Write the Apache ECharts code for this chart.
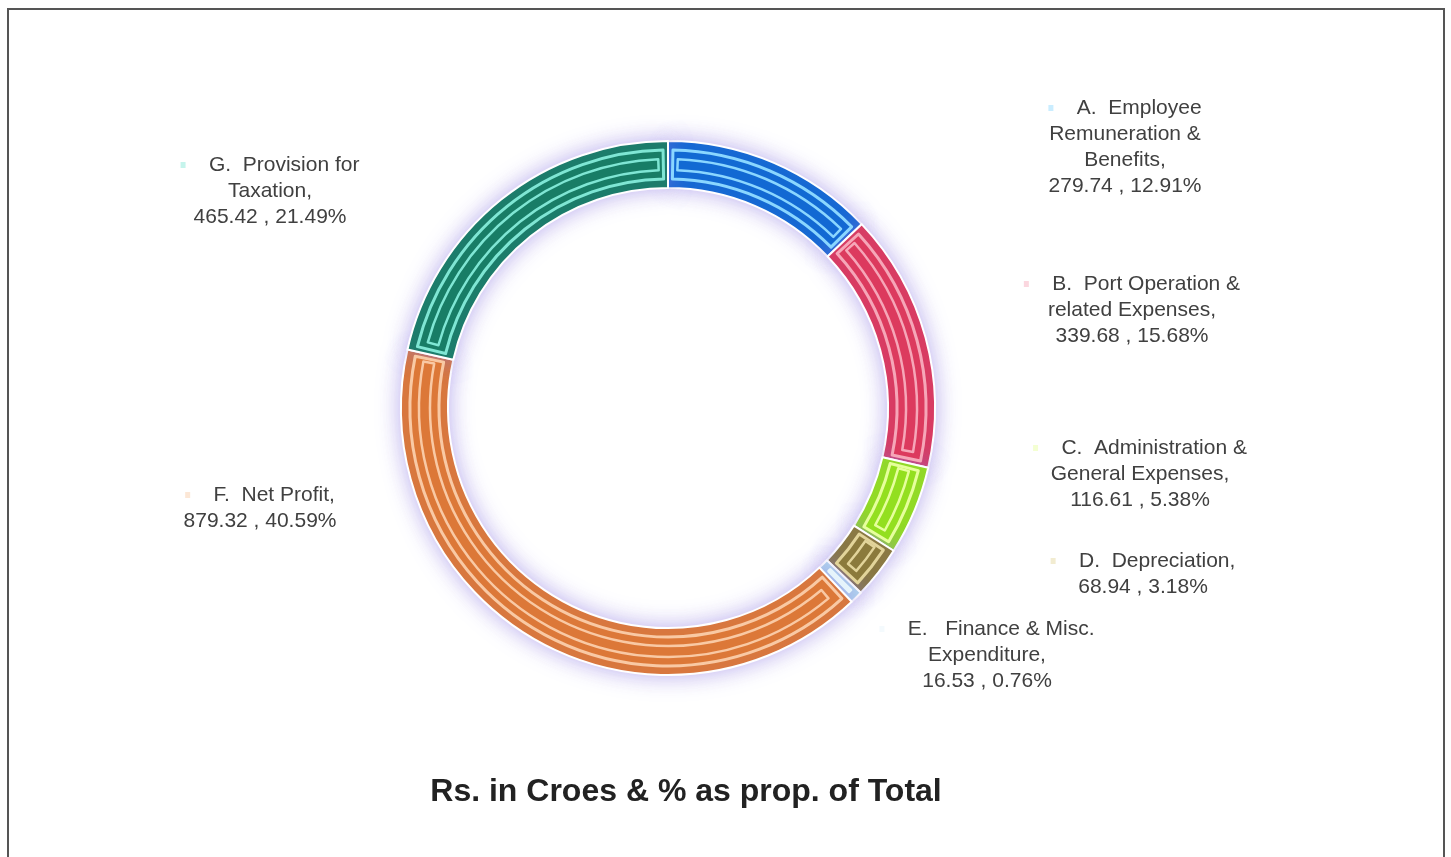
<!DOCTYPE html>
<html lang="en">
<head>
    <meta charset="UTF-8">
    <title>Expenditure pie</title>
    <script src="https://cdn.jsdelivr.net/npm/echarts@6/dist/echarts.min.js"></script>
    <style>
        html, body { margin: 0; padding: 0; background: #fff; }
        #frame {
            position: absolute; left: 7px; top: 8px; width: 1438px; height: 860px;
            border: 2px solid #555; border-bottom: none; box-sizing: border-box;
        }
        #main { position: absolute; left: 0; top: 0; width: 1451px; height: 857px; }
    </style>
</head>
<body>
    <div id="frame"></div>
    <div id="main"></div>
    <script>
        // data
        var names = [
            'A.  Employee\nRemuneration &\nBenefits,',
            'B.  Port Operation &\nrelated Expenses,',
            'C.  Administration &\nGeneral Expenses,',
            'D.  Depreciation,',
            'E.   Finance & Misc.\nExpenditure,',
            'F.  Net Profit,',
            'G.  Provision for\nTaxation,'
        ];
        var values = [279.74, 339.68, 116.61, 68.94, 16.53, 879.32, 465.42];
        var percents = ['12.91%', '15.68%', '5.38%', '3.18%', '0.76%', '40.59%', '21.49%'];

        var colors = ['#1269d3', '#dc3a5e', '#93df1f', '#8b7a3c', '#b5dcf0', '#dc7838', '#187d66'];
        var lights = ['#8ad6ff', '#f6a6b8', '#e6ff9c', '#e2d49a', '#e6f4fb', '#f9c9a4', '#7fe6d4'];

        // label centres
        var labelPos = [[1125, 147], [1132, 310], [1140, 474], [1143, 574], [987, 655], [260, 508], [270, 191]];

        var chart = echarts.init(document.getElementById('main'));
        var center = [668, 408];

        var outerData = [], midData = [], innerData = [];
        for (var i = 0; i < values.length; i++) {
            outerData.push({
                name: names[i], value: values[i],
                itemStyle: { color: colors[i] },
                label: { rich: { m: { width: 5, height: 6, backgroundColor: lights[i], opacity: 0.45 } } }
            });
            midData.push({
                name: names[i], value: values[i],
                itemStyle: { color: colors[i], borderColor: lights[i], borderWidth: 3 }
            });
            innerData.push({
                name: names[i], value: values[i],
                itemStyle: { color: colors[i], borderColor: lights[i], borderWidth: 2.5 }
            });
        }

        var option = {
            animation: false,
            title: {
                text: 'Rs. in Croes & % as prop. of Total',
                left: 681, top: 771, textAlign: 'center',
                textStyle: { fontFamily: 'Liberation Sans, Arial', fontSize: 32, fontWeight: 'bold', color: '#222' }
            },
            series: [
                {
                    type: 'pie',
                    center: center,
                    radius: [220, 267],
                    startAngle: 90,
                    clockwise: true,
                    itemStyle: {
                        borderColor: '#fff', borderWidth: 2,
                        shadowBlur: 22, shadowColor: 'rgba(140,120,225,0.6)'
                    },
                    label: {
                        show: true,
                        formatter: function (p) {
                            return '{m|}    ' + p.name + '\n' + values[p.dataIndex].toFixed(2) + ' , ' + percents[p.dataIndex];
                        },
                        fontFamily: 'Liberation Sans, Arial',
                        fontSize: 21,
                        lineHeight: 26,
                        color: '#404040',
                        align: 'center'
                    },
                    labelLine: { show: false },
                    labelLayout: function (p) {
                        return { x: labelPos[p.dataIndex][0], y: labelPos[p.dataIndex][1], align: 'center', verticalAlign: 'middle' };
                    },
                    emphasis: { disabled: true },
                    data: outerData
                },
                {
                    type: 'pie',
                    center: center,
                    radius: [229, 258],
                    startAngle: 90,
                    padAngle: 2.2,
                    silent: true,
                    label: { show: false },
                    labelLine: { show: false },
                    data: midData
                },
                {
                    type: 'pie',
                    center: center,
                    radius: [238, 249],
                    startAngle: 90,
                    padAngle: 4.5,
                    silent: true,
                    label: { show: false },
                    labelLine: { show: false },
                    data: innerData
                }
            ]
        };
        chart.setOption(option);
    </script>
</body>
</html>
